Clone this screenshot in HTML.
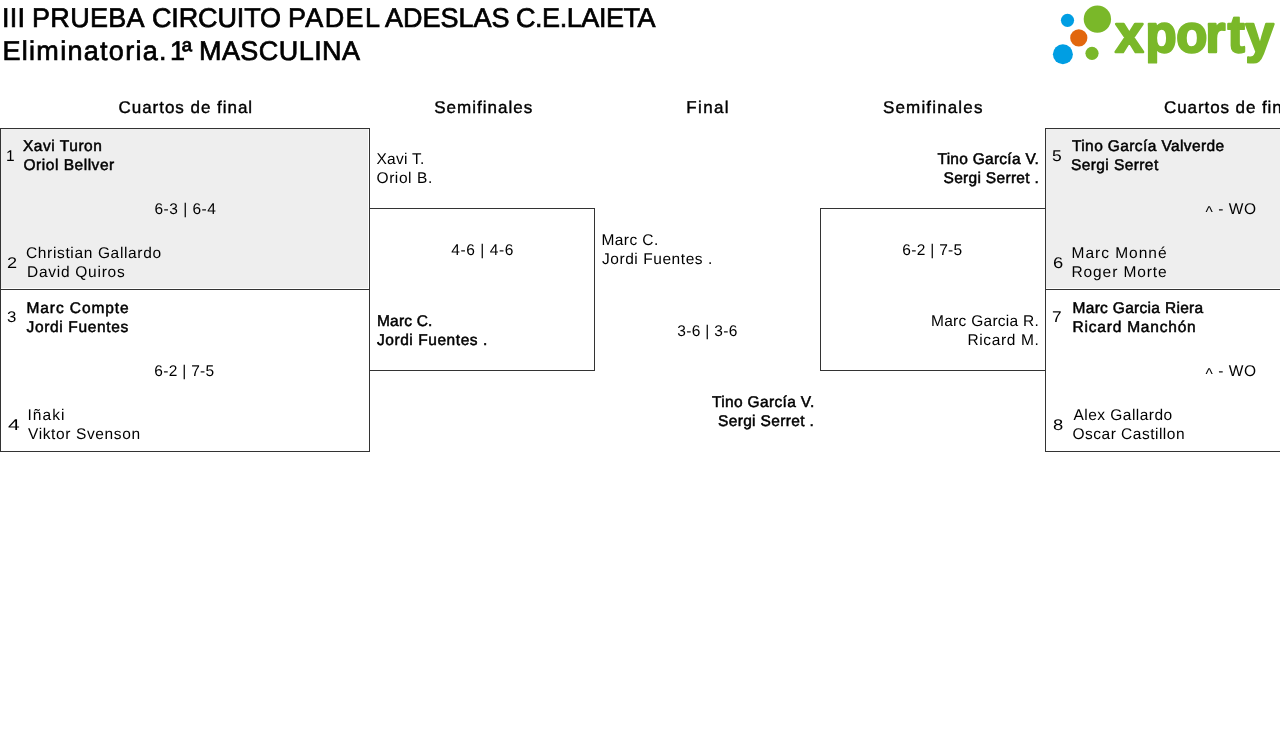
<!DOCTYPE html><html lang="es"><head><meta charset="utf-8"><title>III PRUEBA CIRCUITO PADEL ADESLAS C.E.LAIETA</title><style>
html,body{margin:0;padding:0;background:#fff;}
body{font-family:"Liberation Sans", sans-serif;color:#000;text-rendering:geometricPrecision;}
#page{position:relative;width:1280px;height:730px;overflow:hidden;transform:translateZ(0);}
.t{position:absolute;white-space:nowrap;line-height:1;margin:0;padding:0;}
.b{font-weight:normal;color:#000;-webkit-text-stroke:0.5px #000;}
.n,.nm,.sc{font-weight:normal;color:#000;}
.hd{font-weight:normal;color:#000;-webkit-text-stroke:0.4px #000;}
h1{margin:0;padding:0;font-size:27px;font-weight:normal;}
.h1{font-weight:normal;color:#000;-webkit-text-stroke:0.7px #000;}
.car{position:relative;top:3.3px;}
.box{position:absolute;box-sizing:border-box;}
.ln{position:absolute;background:#333;}
</style></head><body><div id="page">
<header>
<h1><span class="t h1" style="left:2.00px;top:4.50px;font-size:27px;letter-spacing:0.229px;">III</span> <span class="t h1" style="left:32.00px;top:4.50px;font-size:27px;letter-spacing:0.315px;">PRUEBA</span> <span class="t h1" style="left:152.00px;top:4.50px;font-size:27px;letter-spacing:-0.137px;">CIRCUITO</span> <span class="t h1" style="left:288.00px;top:4.50px;font-size:27px;letter-spacing:1.365px;">PADEL</span> <span class="t h1" style="left:385.00px;top:4.50px;font-size:27px;letter-spacing:-0.012px;">ADESLAS</span> <span class="t h1" style="left:516.00px;top:4.50px;font-size:27px;letter-spacing:-0.439px;">C.E.LAIETA</span><br><span class="t h1" style="left:2.50px;top:37.50px;font-size:27px;letter-spacing:1.287px;">Eliminatoria.</span> <span class="t h1" style="left:170.00px;top:37.50px;font-size:27px;letter-spacing:-3.016px;">1ª</span> <span class="t h1" style="left:199.00px;top:37.50px;font-size:27px;letter-spacing:0.435px;">MASCULINA</span></h1>
<svg class="logo" style="position:absolute;left:1040px;top:0" width="240" height="75" viewBox="1040 0 240 75">
<defs><clipPath id="lc"><rect x="1100" y="16.5" width="180" height="47"/></clipPath></defs>
<circle cx="1097.4" cy="19.1" r="13.7" fill="#7ab829"/>
<circle cx="1067.5" cy="20.3" r="6.6" fill="#009ee3"/>
<circle cx="1078.8" cy="37.9" r="8.6" fill="#e2670d"/>
<circle cx="1062.9" cy="54.3" r="10" fill="#009ee3"/>
<circle cx="1092" cy="53.3" r="6.6" fill="#7ab829"/>
<g clip-path="url(#lc)"><g transform="scale(0.96,1)"><text x="1161.82 1193.28 1225.36 1255.73 1279.01 1297.40" y="52.3" font-family="Liberation Sans, sans-serif" font-weight="bold" font-size="53" fill="#7ab829" stroke="#7ab829" stroke-width="2.4" stroke-linejoin="round">xporty</text></g></g>
</svg>
</header>
<main class="bracket">
<div class="rounds"><div class="t hd" style="left:118.50px;top:99.00px;font-size:17px;letter-spacing:0.971px;">Cuartos de final</div>
<div class="t hd" style="left:434.25px;top:99.00px;font-size:17px;letter-spacing:1.013px;">Semifinales</div>
<div class="t hd" style="left:686.25px;top:99.00px;font-size:17px;letter-spacing:1.362px;">Final</div>
<div class="t hd" style="left:883.00px;top:99.00px;font-size:17px;letter-spacing:1.151px;">Semifinales</div>
<div class="t hd" style="left:1164.00px;top:99.00px;font-size:17px;letter-spacing:0.911px;">Cuartos de final</div></div>
<section class="round quarters left">
<div class="match done"><div class="box" style="left:1px;top:129px;width:367px;height:159px;background:#eee"></div><div class="t nm" style="left:6.00px;top:148.75px;font-size:15.5px;">1</div>
<div class="t b" style="left:23.00px;top:138.75px;font-size:15.5px;letter-spacing:0.527px;">Xavi Turon</div>
<div class="t b" style="left:23.50px;top:157.75px;font-size:15.5px;letter-spacing:0.524px;">Oriol Bellver</div>
<div class="t sc" style="left:154.50px;top:201.75px;font-size:15.5px;letter-spacing:0.492px;">6-3 | 6-4</div>
<div class="t nm" style="left:6.50px;top:255.75px;font-size:15.5px;transform:scaleX(1.171);transform-origin:0 0;">2</div>
<div class="t n" style="left:26.00px;top:245.75px;font-size:15.5px;letter-spacing:0.645px;">Christian Gallardo</div>
<div class="t n" style="left:27.00px;top:264.75px;font-size:15.5px;letter-spacing:0.733px;">David Quiros</div></div>
<div class="match"><div class="t nm" style="left:7.00px;top:309.75px;font-size:15.5px;transform:scaleX(1.086);transform-origin:0 0;">3</div>
<div class="t b" style="left:26.50px;top:300.75px;font-size:15.5px;letter-spacing:0.918px;">Marc Compte</div>
<div class="t b" style="left:26.50px;top:319.75px;font-size:15.5px;letter-spacing:0.655px;">Jordi Fuentes</div>
<div class="t sc" style="left:154.25px;top:363.75px;font-size:15.5px;letter-spacing:0.312px;">6-2 | 7-5</div>
<div class="t nm" style="left:7.50px;top:417.75px;font-size:15.5px;transform:scaleX(1.357);transform-origin:0 0;">4</div>
<div class="t n" style="left:27.50px;top:407.75px;font-size:15.5px;letter-spacing:1.031px;">Iñaki</div>
<div class="t n" style="left:28.00px;top:426.75px;font-size:15.5px;letter-spacing:0.623px;">Viktor Svenson</div></div>
<div class="ln" style="left:0px;top:128px;width:370px;height:1px"></div><div class="ln" style="left:0px;top:289px;width:370px;height:1px"></div><div class="ln" style="left:0px;top:451px;width:370px;height:1px"></div><div class="ln" style="left:0px;top:128px;width:1px;height:324px"></div><div class="ln" style="left:369px;top:128px;width:1px;height:324px"></div>
</section>
<section class="round semis left">
<div class="match"><div class="t n" style="left:376.50px;top:151.75px;font-size:15.5px;letter-spacing:0.275px;">Xavi T.</div>
<div class="t n" style="left:376.50px;top:170.75px;font-size:15.5px;letter-spacing:0.573px;">Oriol B.</div>
<div class="t sc" style="left:451.25px;top:242.75px;font-size:15.5px;letter-spacing:0.575px;">4-6 | 4-6</div>
<div class="t b" style="left:377.00px;top:313.75px;font-size:15.5px;letter-spacing:0.186px;">Marc C.</div>
<div class="t b" style="left:377.00px;top:332.75px;font-size:15.5px;letter-spacing:0.555px;">Jordi Fuentes .</div></div>
<div class="ln" style="left:369px;top:208px;width:226px;height:1px"></div><div class="ln" style="left:369px;top:370px;width:226px;height:1px"></div><div class="ln" style="left:594px;top:208px;width:1px;height:163px"></div>
</section>
<section class="round final">
<div class="match"><div class="t n" style="left:601.50px;top:232.75px;font-size:15.5px;letter-spacing:0.413px;">Marc C.</div>
<div class="t n" style="left:602.00px;top:251.75px;font-size:15.5px;letter-spacing:0.555px;">Jordi Fuentes .</div>
<div class="t sc" style="left:677.25px;top:323.75px;font-size:15.5px;letter-spacing:0.325px;">3-6 | 3-6</div>
<div class="t b" style="left:712.00px;top:394.75px;font-size:15.5px;letter-spacing:0.338px;">Tino García V.</div>
<div class="t b" style="left:718.00px;top:413.75px;font-size:15.5px;letter-spacing:0.346px;">Sergi Serret .</div></div>
</section>
<section class="round semis right">
<div class="match"><div class="t b" style="left:937.50px;top:151.75px;font-size:15.5px;letter-spacing:0.266px;">Tino García V.</div>
<div class="t b" style="left:943.50px;top:170.75px;font-size:15.5px;letter-spacing:0.310px;">Sergi Serret .</div>
<div class="t sc" style="left:902.25px;top:242.75px;font-size:15.5px;letter-spacing:0.315px;">6-2 | 7-5</div>
<div class="t n" style="left:931.00px;top:313.75px;font-size:15.5px;letter-spacing:0.280px;">Marc Garcia R.</div>
<div class="t n" style="left:967.50px;top:332.75px;font-size:15.5px;letter-spacing:0.614px;">Ricard M.</div></div>
<div class="ln" style="left:820px;top:208px;width:226px;height:1px"></div><div class="ln" style="left:820px;top:370px;width:226px;height:1px"></div><div class="ln" style="left:820px;top:208px;width:1px;height:163px"></div>
</section>
<section class="round quarters right">
<div class="match done"><div class="box" style="left:1046px;top:129px;width:367px;height:159px;background:#eee"></div><div class="t nm" style="left:1052.00px;top:148.75px;font-size:15.5px;transform:scaleX(1.129);transform-origin:0 0;">5</div>
<div class="t b" style="left:1072.00px;top:138.75px;font-size:15.5px;letter-spacing:0.393px;">Tino García Valverde</div>
<div class="t b" style="left:1071.00px;top:157.75px;font-size:15.5px;letter-spacing:0.408px;">Sergi Serret</div>
<div class="t sc" style="left:1205.50px;top:201.75px;font-size:15.5px;letter-spacing:0.541px;"><span class="car">^</span> - WO</div>
<div class="t nm" style="left:1053.00px;top:255.75px;font-size:15.5px;transform:scaleX(1.186);transform-origin:0 0;">6</div>
<div class="t n" style="left:1071.50px;top:245.75px;font-size:15.5px;letter-spacing:0.993px;">Marc Monné</div>
<div class="t n" style="left:1071.50px;top:264.75px;font-size:15.5px;letter-spacing:0.894px;">Roger Morte</div></div>
<div class="match"><div class="t nm" style="left:1052.00px;top:309.75px;font-size:15.5px;transform:scaleX(1.114);transform-origin:0 0;">7</div>
<div class="t b" style="left:1072.50px;top:300.75px;font-size:15.5px;letter-spacing:0.307px;">Marc Garcia Riera</div>
<div class="t b" style="left:1072.50px;top:319.75px;font-size:15.5px;letter-spacing:0.795px;">Ricard Manchón</div>
<div class="t sc" style="left:1205.50px;top:363.75px;font-size:15.5px;letter-spacing:0.541px;"><span class="car">^</span> - WO</div>
<div class="t nm" style="left:1053.00px;top:417.75px;font-size:15.5px;transform:scaleX(1.186);transform-origin:0 0;">8</div>
<div class="t n" style="left:1073.50px;top:407.75px;font-size:15.5px;letter-spacing:0.463px;">Alex Gallardo</div>
<div class="t n" style="left:1072.50px;top:426.75px;font-size:15.5px;letter-spacing:0.494px;">Oscar Castillon</div></div>
<div class="ln" style="left:1045px;top:128px;width:370px;height:1px"></div><div class="ln" style="left:1045px;top:289px;width:370px;height:1px"></div><div class="ln" style="left:1045px;top:451px;width:370px;height:1px"></div><div class="ln" style="left:1045px;top:128px;width:1px;height:324px"></div>
</section>
</main>
</div></body></html>
